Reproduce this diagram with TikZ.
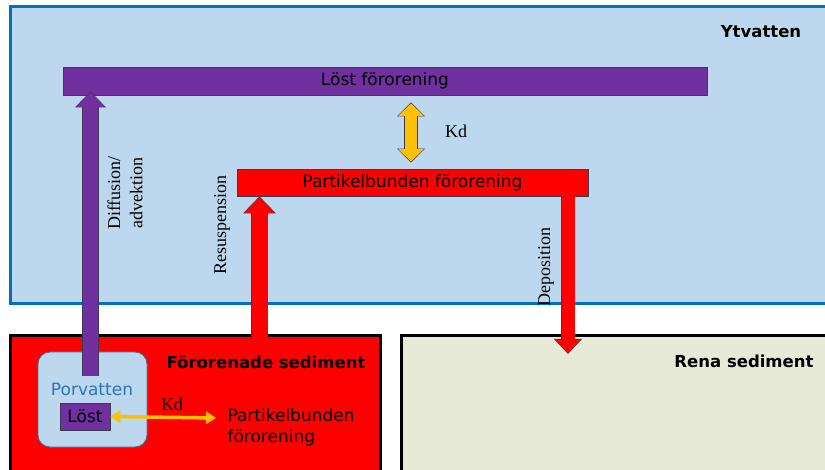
\documentclass[tikz,border=0pt]{standalone}
\usepackage{fontspec}
\setmainfont{DejaVu Sans}
\newfontfamily\labelfont{Liberation Serif}
\usetikzlibrary{arrows.meta,calc,positioning}

\definecolor{ytblue}{HTML}{BDD7EE}
\definecolor{ytborder}{HTML}{0070C0}
\definecolor{loestpurple}{HTML}{7030A0}
\definecolor{kdyellow}{HTML}{FFC000}
\definecolor{renagreen}{HTML}{E6EAD6}
\definecolor{porblue}{HTML}{2E75B6}
\definecolor{porborder}{HTML}{41719C}
\definecolor{edgegray}{HTML}{3A3A50}

% block arrow: colour, shaft, head width, head length, from, to
\newcommand{\flowarrow}[6]{%
  \draw [draw=edgegray, line width=#2pt+1.4pt,
    -{Triangle[width=#3pt, length=#4pt, line width=0pt]}] (#5) -- (#6) ;
  \draw [draw=#1, line width=#2pt, shorten >=1pt,
    -{Triangle[width=#3pt-2.6pt, length=#4pt-1.6pt, line width=0pt]}] (#5) -- (#6) ;
}

\tikzset{
  sans/.style={font=\fontsize{17}{21}\selectfont},
  headline/.style={font=\fontsize{16.5}{20}\selectfont\bfseries},
  serif/.style={font=\fontsize{18}{22}\selectfont\labelfont},
  bar/.style={sans, draw=edgegray, line width=0.8pt, inner sep=0pt,
    minimum height=27pt},
}

\begin{document}
\begin{tikzpicture}[x=1pt, y=-1pt]

  \useasboundingbox (0,0) rectangle (825,470) ;
  \clip (0,0) rectangle (825,470) ;

  % water and sediment
  \draw [fill=ytblue, draw=ytborder, line width=3pt] (10,7) rectangle (845,304) ;
  \draw [fill=red, draw=black, line width=3pt] (10,336) rectangle (380,490) ;
  \draw [fill=renagreen, draw=black, line width=3pt] (401,336) rectangle (845,490) ;

  \node [headline] (yt) at (761,32) {Ytvatten} ;
  \node [headline] (foro) at (266,362) {Förorenade sediment} ;
  \node [headline] (rena) at (744,361) {Rena sediment} ;

  \node [bar, fill=loestpurple, minimum width=644pt, minimum height=28pt]
    (loest) at (385,81) {Löst förorening} ;
  \node [bar, fill=red, minimum width=351pt] (partikel) at (412.5,182.5)
    {Partikelbunden förorening} ;

  % pore water
  \node [fill=ytblue, draw=porborder, line width=0.8pt, rounded corners=12pt,
    minimum width=109pt, minimum height=95pt] (porv) at (92.5,399.5) {} ;
  \node [sans, text=porblue] (porvlabel) at (92,389) {Porvatten} ;
  \node [bar, fill=loestpurple, minimum width=50pt] (loestsmall) at (85,416.5) {Löst} ;
  \node [sans, anchor=west, align=left] (partsed) at (224,427)
    {Partikelbunden\\förorening} ;

  \coordinate (diffbot) at (90.5,376) ;
  \coordinate (resbot) at (259.5,341) ;
  \coordinate (depbot) at (568,354) ;
  \coordinate (kdend) at (216,418) ;

  % transport
  \flowarrow{loestpurple}{15}{31}{16}{diffbot}{$(loest.south -| diffbot)+(0,-4)$}
  \flowarrow{red}{16}{33}{17}{resbot}{partikel.south -| resbot}
  \flowarrow{red}{13}{28}{15}{partikel.south -| depbot}{depbot}

  \draw [draw=edgegray, line width=13.4pt,
    {Triangle[width=28pt, length=14pt, line width=0pt]}-{Triangle[width=28pt, length=14pt, line width=0pt]}]
    ($(loest.south)+(26,7)$) -- ($(partikel.north)+(-1.5,-6)$) ;
  \draw [draw=kdyellow, line width=12pt, shorten <=1pt, shorten >=1pt,
    {Triangle[width=25.4pt, length=12.4pt, line width=0pt]}-{Triangle[width=25.4pt, length=12.4pt, line width=0pt]}]
    ($(loest.south)+(26,7)$) -- ($(partikel.north)+(-1.5,-6)$) ;
  \draw [draw=kdyellow, line width=3.5pt,
    {Triangle[width=13pt, length=10pt, line width=0pt]}-{Triangle[width=13pt, length=10pt, line width=0pt]}]
    (loestsmall.east) -- (kdend) ;

  \node [serif] (kdwater) at (456,131) {Kd} ;
  \node [serif] (kdsed) at (172,404) {Kd} ;
  \node [serif, rotate=90, align=center] (diff) at (125,193) {Diffusion/\\advektion} ;
  \node [serif, rotate=90] (resus) at (222,225) {Resuspension} ;
  \node [serif, rotate=90] (depo) at (546,267) {Deposition} ;

\end{tikzpicture}
\end{document}
